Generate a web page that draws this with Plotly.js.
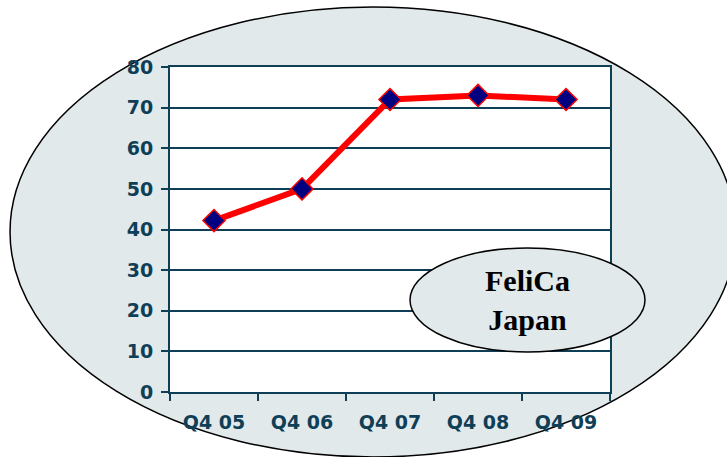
<!DOCTYPE html>
<html>
<head>
<meta charset="utf-8">
<script src="https://cdn.plot.ly/plotly-3.0.1.min.js"></script>
<style>html,body{margin:0;padding:0;background:#fff;}#chart{width:727px;height:457px;}</style>
</head>
<body>
<div id="chart"></div>
<script>
const categories = ["Q4 05", "Q4 06", "Q4 07", "Q4 08", "Q4 09"];
const values = [42.2, 50, 72, 73, 72];
const yTicks = [0, 10, 20, 30, 40, 50, 60, 70, 80];
const labelText = "FeliCa<br>Japan";

const axisColor = "#0f3f57";
const bgFill = "#e1e9eb";

const trace = {
  x: categories,
  y: values,
  type: "scatter",
  mode: "lines+markers",
  line: {color: "#ff0000", width: 6},
  marker: {symbol: "diamond", size: 17, color: "#000080", line: {color: "#ff0000", width: 1.5}},
  hoverinfo: "skip"
};

const layout = {
  width: 727, height: 457,
  margin: {l: 170, r: 117, t: 67, b: 65},
  paper_bgcolor: "#ffffff",
  plot_bgcolor: "#ffffff",
  showlegend: false,
  xaxis: {
    type: "category",
    range: [-0.5, 4.5],
    showgrid: false,
    showline: true, linecolor: axisColor, linewidth: 2, mirror: true,
    ticks: "outside", tickson: "boundaries", ticklen: 7, tickcolor: axisColor, tickwidth: 2,
    ticklabelstandoff: 12,
    tickfont: {family: "DejaVu Sans", size: 19, color: axisColor, weight: "bold"},
    zeroline: false
  },
  yaxis: {
    range: [0, 80],
    tickvals: yTicks,
    showgrid: true, gridcolor: axisColor, gridwidth: 2,
    showline: true, linecolor: axisColor, linewidth: 2, mirror: true,
    ticks: "outside", ticklen: 7, tickcolor: axisColor, tickwidth: 2,
    ticklabelstandoff: 4,
    tickfont: {family: "DejaVu Sans", size: 19, color: axisColor, weight: "bold"},
    zeroline: false
  },
  shapes: [
    {type: "circle", xref: "paper", yref: "paper", layer: "below",
     x0: -0.3636, x1: 1.2864, y0: -0.2, y1: 1.1846,
     fillcolor: bgFill, line: {color: "#000000", width: 1.5}},
    {type: "rect", xref: "paper", yref: "paper", layer: "below",
     x0: 0, x1: 1, y0: 0, y1: 1, fillcolor: "#ffffff", line: {width: 0}},
    {type: "circle", xref: "paper", yref: "paper", layer: "above",
     x0: 0.5455, x1: 1.0795, y0: 0.1231, y1: 0.4431,
     fillcolor: bgFill, line: {color: "#000000", width: 1.5}}
  ],
  annotations: [
    {xref: "paper", yref: "paper", x: 0.8125, y: 0.2831, xanchor: "center", yanchor: "middle",
     text: "<b>" + labelText + "</b>", showarrow: false,
     font: {family: "Liberation Serif", size: 30, color: "#000000"}}
  ]
};

Plotly.newPlot("chart", [trace], layout, {displayModeBar: false, staticPlot: true});
</script>
</body>
</html>
